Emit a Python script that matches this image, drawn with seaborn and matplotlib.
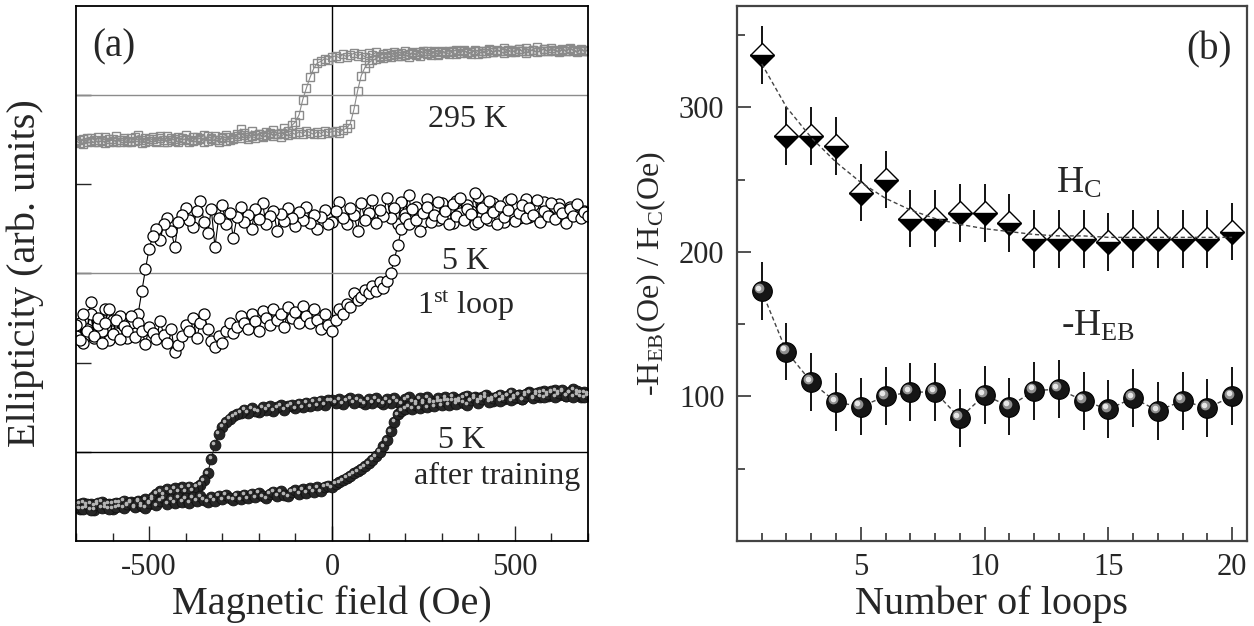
import numpy as np
import matplotlib
matplotlib.use("Agg")
import matplotlib.pyplot as plt
from matplotlib.ticker import MultipleLocator, NullFormatter
from matplotlib.transforms import offset_copy
import seaborn as sns

# ---- panel (a): hysteresis loops, field grid in Oe ----
field = np.arange(-700, 701, 10)

# 295 K, branch coming down from +700 (listed in ascending field order)
k295_down = [4.47, 4.50, 4.45, 4.52, 4.49, 4.47, 4.53, 4.50, 4.46, 4.51, 4.49, 4.54, 4.48, 4.50, 4.47,
             4.52, 4.49, 4.55, 4.50, 4.47, 4.51, 4.53, 4.49, 4.52, 4.48, 4.54, 4.50, 4.51, 4.47, 4.52,
             4.55, 4.50, 4.49, 4.53, 4.51, 4.48, 4.54, 4.52, 4.50, 4.47, 4.53, 4.55, 4.50, 4.52, 4.56,
             4.62, 4.58, 4.53, 4.60, 4.55, 4.57, 4.54, 4.59, 4.56, 4.61, 4.57, 4.58, 4.63, 4.60, 4.66,
             4.70, 4.78, 4.95, 5.08, 5.20, 5.30, 5.36, 5.38, 5.41, 5.40, 5.43,
             5.44, 5.42, 5.46, 5.43, 5.45, 5.47, 5.44, 5.46, 5.43, 5.47, 5.45, 5.48, 5.44, 5.46, 5.47,
             5.45, 5.48, 5.46, 5.44, 5.49, 5.46, 5.47, 5.45, 5.48, 5.50, 5.46, 5.47, 5.49, 5.45, 5.48,
             5.47, 5.50, 5.48, 5.46, 5.49, 5.51, 5.47, 5.48, 5.50, 5.46, 5.49, 5.47, 5.51, 5.48, 5.50,
             5.49, 5.47, 5.51, 5.48, 5.50, 5.52, 5.49, 5.47, 5.50, 5.51, 5.48, 5.50, 5.52, 5.49, 5.51,
             5.50, 5.48, 5.51, 5.49, 5.52, 5.50, 5.48, 5.51, 5.49, 5.50]
# 295 K, branch going up from -700
k295_up = [4.49, 4.46, 4.51, 4.48, 4.52, 4.50, 4.47, 4.49, 4.53, 4.48, 4.51, 4.47, 4.50, 4.52, 4.49,
           4.48, 4.53, 4.50, 4.46, 4.52, 4.49, 4.51, 4.48, 4.54, 4.50, 4.47, 4.52, 4.49, 4.53, 4.50,
           4.51, 4.48, 4.53, 4.50, 4.52, 4.55, 4.49, 4.51, 4.54, 4.50, 4.52, 4.49, 4.53, 4.51, 4.54,
           4.52, 4.55, 4.51, 4.54, 4.52, 4.56, 4.53, 4.55, 4.58, 4.54, 4.56, 4.53, 4.57, 4.55, 4.58,
           4.56, 4.59, 4.57, 4.60, 4.58, 4.56, 4.59, 4.57, 4.60, 4.58, 4.59,
           4.60, 4.58, 4.61, 4.63, 4.68, 4.84, 5.05, 5.22, 5.31, 5.36, 5.39, 5.41, 5.43, 5.42, 5.44,
           5.43, 5.46, 5.44, 5.47, 5.45, 5.43, 5.48, 5.46, 5.44, 5.47, 5.49, 5.45, 5.48, 5.46, 5.50,
           5.48, 5.46, 5.49, 5.51, 5.47, 5.50, 5.48, 5.46, 5.51, 5.49, 5.47, 5.50, 5.52, 5.48, 5.51,
           5.50, 5.53, 5.49, 5.51, 5.48, 5.52, 5.50, 5.53, 5.49, 5.51, 5.54, 5.50, 5.52, 5.49, 5.53,
           5.51, 5.49, 5.52, 5.50, 5.53, 5.51, 5.49, 5.52, 5.50, 5.51]

# 5 K, 1st loop
first_down = [2.30, 2.45, 2.22, 2.38, 2.55, 2.28, 2.42, 2.35, 2.60, 2.25, 2.48, 2.33, 2.52, 2.40, 2.28,
              2.45, 2.38, 2.55, 2.80, 3.05, 3.28, 3.42, 3.50, 3.38, 3.55, 3.62, 3.48, 3.30, 3.58, 3.66,
              3.74, 3.60, 3.52, 3.70, 3.81, 3.58, 3.45, 3.72, 3.30, 3.62, 3.77, 3.55, 3.68, 3.40, 3.63,
              3.75, 3.58, 3.66, 3.50, 3.72, 3.61, 3.79, 3.55, 3.64, 3.70, 3.48, 3.67, 3.59, 3.74, 3.62,
              3.53, 3.69, 3.60, 3.75, 3.57, 3.66, 3.50, 3.63, 3.71, 3.55, 3.58,
              3.70, 3.80, 3.62, 3.55, 3.74, 3.66, 3.48, 3.79, 3.60, 3.68, 3.82, 3.57, 3.71, 3.64, 3.85,
              3.62, 3.73, 3.56, 3.80, 3.67, 3.88, 3.61, 3.75, 3.69, 3.58, 3.83, 3.66, 3.72, 3.60, 3.79,
              3.65, 3.74, 3.57, 3.81, 3.68, 3.62, 3.77, 3.70, 3.55, 3.86, 3.64, 3.73, 3.60, 3.79, 3.67,
              3.72, 3.58, 3.81, 3.65, 3.75, 3.62, 3.70, 3.84, 3.63, 3.77, 3.68, 3.59, 3.80, 3.66, 3.73,
              3.64, 3.78, 3.69, 3.61, 3.75, 3.67, 3.72, 3.63, 3.70, 3.66]
first_up = [2.42, 2.25, 2.55, 2.35, 2.68, 2.30, 2.50, 2.22, 2.45, 2.60, 2.32, 2.48, 2.27, 2.41, 2.35,
            2.52, 2.29, 2.44, 2.36, 2.21, 2.40, 2.33, 2.26, 2.47, 2.31, 2.22, 2.38, 2.12, 2.20, 2.30,
            2.42, 2.35, 2.50, 2.28, 2.44, 2.55, 2.38, 2.24, 2.18, 2.30, 2.22, 2.36, 2.45, 2.33, 2.40,
            2.52, 2.44, 2.38, 2.55, 2.47, 2.36, 2.58, 2.50, 2.42, 2.60, 2.48, 2.55, 2.40, 2.62, 2.50,
            2.57, 2.45, 2.63, 2.52, 2.44, 2.60, 2.48, 2.38, 2.55, 2.42, 2.35,
            2.48, 2.60, 2.55, 2.66, 2.62, 2.78, 2.70, 2.74, 2.82, 2.78, 2.86, 2.80, 2.90, 2.84, 2.92,
            3.00, 3.15, 3.32, 3.50, 3.62, 3.55, 3.72, 3.60, 3.48, 3.68, 3.75, 3.58, 3.66, 3.80, 3.62,
            3.70, 3.56, 3.78, 3.64, 3.85, 3.60, 3.72, 3.67, 3.90, 3.58, 3.74, 3.62, 3.81, 3.69, 3.55,
            3.76, 3.63, 3.71, 3.84, 3.59, 3.68, 3.77, 3.62, 3.73, 3.66, 3.82, 3.58, 3.70, 3.64, 3.79,
            3.61, 3.74, 3.68, 3.57, 3.72, 3.65, 3.78, 3.62, 3.69, 3.64]

# 5 K, after training
trained_down = [0.40, 0.36, 0.43, 0.38, 0.42, 0.35, 0.41, 0.44, 0.38, 0.42, 0.36, 0.43, 0.39, 0.45, 0.40,
                0.44, 0.39, 0.45, 0.41, 0.47, 0.42, 0.49, 0.53, 0.56, 0.52, 0.58, 0.54, 0.59, 0.55, 0.60,
                0.56, 0.61, 0.57, 0.61, 0.63, 0.68, 0.76, 0.92, 1.08, 1.20, 1.28, 1.33, 1.37, 1.40, 1.42,
                1.44, 1.47, 1.44, 1.49, 1.46, 1.45, 1.50, 1.47, 1.51, 1.46, 1.50, 1.52, 1.47, 1.51, 1.53,
                1.49, 1.54, 1.50, 1.55, 1.51, 1.56, 1.52, 1.57, 1.53, 1.58, 1.58,
                1.55, 1.59, 1.54, 1.58, 1.60, 1.55, 1.59, 1.56, 1.54, 1.59, 1.55, 1.60, 1.56, 1.54, 1.59,
                1.55, 1.60, 1.56, 1.54, 1.59, 1.61, 1.56, 1.55, 1.60, 1.56, 1.61, 1.57, 1.55, 1.60, 1.56,
                1.61, 1.57, 1.62, 1.58, 1.56, 1.61, 1.63, 1.58, 1.62, 1.57, 1.61, 1.64, 1.59, 1.57, 1.62,
                1.64, 1.59, 1.63, 1.66, 1.60, 1.64, 1.59, 1.65, 1.67, 1.61, 1.66, 1.62, 1.68, 1.63, 1.67,
                1.69, 1.64, 1.68, 1.63, 1.67, 1.70, 1.64, 1.62, 1.67, 1.63]
trained_up = [0.38, 0.42, 0.36, 0.41, 0.35, 0.40, 0.43, 0.37, 0.41, 0.36, 0.42, 0.38, 0.43, 0.37, 0.41,
              0.43, 0.38, 0.44, 0.39, 0.37, 0.43, 0.46, 0.40, 0.45, 0.48, 0.42, 0.47, 0.43, 0.49, 0.44,
              0.48, 0.43, 0.49, 0.45, 0.50, 0.46, 0.44, 0.49, 0.45, 0.51, 0.47, 0.52, 0.48, 0.46, 0.51,
              0.47, 0.52, 0.48, 0.53, 0.49, 0.54, 0.50, 0.48, 0.53, 0.55, 0.51, 0.56, 0.52, 0.50, 0.55,
              0.57, 0.53, 0.58, 0.54, 0.59, 0.55, 0.60, 0.56, 0.61, 0.62, 0.60,
              0.64, 0.66, 0.68, 0.71, 0.73, 0.76, 0.78, 0.81, 0.84, 0.87, 0.91, 0.95, 1.00, 1.06, 1.13,
              1.23, 1.34, 1.42, 1.46, 1.48, 1.51, 1.48, 1.53, 1.49, 1.54, 1.50, 1.55, 1.51, 1.56, 1.52,
              1.57, 1.53, 1.58, 1.54, 1.59, 1.55, 1.53, 1.58, 1.60, 1.55, 1.59, 1.61, 1.56, 1.60, 1.62,
              1.57, 1.61, 1.63, 1.58, 1.62, 1.64, 1.59, 1.63, 1.66, 1.60, 1.64, 1.67, 1.61, 1.65, 1.68,
              1.62, 1.66, 1.69, 1.63, 1.67, 1.62, 1.68, 1.66, 1.61, 1.65]

# ---- panel (b): training effect ----
loops = list(range(1, 21))
hc = [336, 280, 280, 273, 241, 250, 223, 223, 227, 227, 220, 209, 209, 209, 207, 209, 209, 209, 209, 214]
hc_err = [20] * 20
hc_fit = [330, 300, 279, 262, 248, 237, 229, 223, 219, 216, 214, 212, 211, 211, 210, 210, 210, 210, 210, 210]
heb = [173, 131, 110, 96, 93, 100, 103, 103, 85, 101, 93, 104, 105, 97, 91, 99, 90, 97, 92, 100]
heb_err = [20] * 20

sns.set_style("ticks")
plt.rcParams["font.family"] = ["Liberation Serif", "DejaVu Serif"]
plt.rcParams["mathtext.fontset"] = "custom"
plt.rcParams["mathtext.rm"] = "Liberation Serif"
plt.rcParams["mathtext.it"] = "Liberation Serif:italic"
plt.rcParams["axes.unicode_minus"] = False

fig = plt.figure(figsize=(12.54, 6.26), dpi=100)
ax1 = fig.add_axes([0.0606, 0.1358, 0.4083, 0.8546])
ax2 = fig.add_axes([0.5877, 0.1358, 0.4067, 0.8546])


def loop_path(down, up):
    x = np.concatenate([field[::-1], field])
    y = np.concatenate([np.array(down)[::-1], np.array(up)])
    return x, y


# reference lines
ax1.axvline(0, color="black", lw=1.0, zorder=1)
ax1.axhline(5, color="#8c8c8c", lw=1.0, zorder=1)
ax1.axhline(3, color="#8c8c8c", lw=1.0, zorder=1)
ax1.axhline(1, color="black", lw=1.0, zorder=1)

x, y = loop_path(k295_down, k295_up)
sns.lineplot(x=x, y=y, sort=False, estimator=None, ax=ax1, color="#8a8a8a", lw=0.8,
             marker="s", ms=6.3, mfc="none", mec="#8a8a8a", mew=1.0)

x, y = loop_path(first_down, first_up)
sns.lineplot(x=x, y=y, sort=False, estimator=None, ax=ax1, color="black", lw=0.8,
             marker="o", ms=8, mfc="white", mec="black", mew=0.9)

x, y = loop_path(trained_down, trained_up)
sns.lineplot(x=x, y=y, sort=False, estimator=None, ax=ax1, color="#222222", lw=0.8,
             marker="o", ms=7.8, mfc="#262626", mec="#111111", mew=0.6)
hl = offset_copy(ax1.transData, fig=fig, x=-1.1, y=1.1, units="points")
ax1.plot(x, y, ls="none", marker="o", ms=1.6, color="#b4b4b4", transform=hl, zorder=3)

ax1.set_xlim(-700, 700)
ax1.set_ylim(0, 6)
ax1.xaxis.set_major_locator(MultipleLocator(500))
ax1.xaxis.set_minor_locator(MultipleLocator(100))
ax1.set_yticks([1, 2, 3, 4, 5])
ax1.yaxis.set_major_formatter(NullFormatter())
ax1.tick_params(which="both", direction="in", top=False, right=False, labelsize=22, pad=9, width=1.0)
ax1.tick_params(which="major", length=11)
ax1.tick_params(which="minor", length=6)
ax1.set_xlabel("Magnetic field (Oe)", fontsize=29, labelpad=2)
ax1.set_ylabel("Ellipticity (arb. units)", fontsize=29, labelpad=14)
for s in ax1.spines.values():
    s.set_linewidth(1.3)
    s.set_color("black")

ax1.text(-596, 5.54, "(a)", fontsize=28, ha="center", va="center")
ax1.text(372, 4.73, "295 K", fontsize=23, ha="center", va="center")
ax1.text(364, 3.13, "5 K", fontsize=23, ha="center", va="center")
ax1.text(366, 2.64, "1$^{\\mathrm{st}}$ loop", fontsize=23, ha="center", va="center")
ax1.text(353, 1.13, "5 K", fontsize=23, ha="center", va="center")
ax1.text(451, 0.72, "after training", fontsize=23, ha="center", va="center")

# panel (b)
ax2.errorbar(loops, hc, yerr=hc_err, fmt="none", ecolor="black", elinewidth=1.3, capsize=0, zorder=2)
ax2.errorbar(loops, heb, yerr=heb_err, fmt="none", ecolor="black", elinewidth=1.3, capsize=0, zorder=2)

sns.lineplot(x=loops, y=hc, ax=ax2, ls="none", marker="D", ms=12, fillstyle="bottom",
             mfc="black", markerfacecoloralt="white", mec="black", mew=1.0, zorder=3)
sns.lineplot(x=loops, y=hc_fit, ax=ax2, color="#444444", lw=1.0, dashes=(3, 2), zorder=4)

sns.lineplot(x=loops, y=heb, ax=ax2, color="#444444", lw=1.0, dashes=(3, 2), zorder=2.5)
sns.scatterplot(x=loops, y=heb, ax=ax2, s=200, color="#151515", edgecolor="black", linewidth=0.8, zorder=3)
hl2 = offset_copy(ax2.transData, fig=fig, x=-2.0, y=2.0, units="points")
ax2.plot(loops, heb, ls="none", marker="o", ms=6, color="#8f8f8f", transform=hl2, zorder=4)
hl3 = offset_copy(ax2.transData, fig=fig, x=-2.4, y=2.4, units="points")
ax2.plot(loops, heb, ls="none", marker="o", ms=3, color="#e6e6e6", transform=hl3, zorder=5)

ax2.set_xlim(0, 20.6)
ax2.set_ylim(0, 370)
ax2.set_xticks([5, 10, 15, 20])
ax2.xaxis.set_minor_locator(MultipleLocator(1))
ax2.set_yticks([100, 200, 300])
ax2.yaxis.set_minor_locator(MultipleLocator(50))
ax2.tick_params(which="both", direction="in", top=False, right=False, labelsize=22, pad=9,
                width=1.2, color="#333333")
ax2.tick_params(which="major", length=10)
ax2.tick_params(which="minor", length=6)
ax2.set_xlabel("Number of loops", fontsize=29, labelpad=2)
ax2.set_ylabel("-H$_{\\mathrm{EB}}$(Oe) / H$_{\\mathrm{C}}$(Oe)", fontsize=23, labelpad=8)
for s in ax2.spines.values():
    s.set_linewidth(1.6)
    s.set_color("#444444")

ax2.text(19.07, 340, "(b)", fontsize=28, ha="center", va="center")
ax2.text(12.9, 241, "H$_{\\mathrm{C}}$", fontsize=27, ha="left", va="baseline")
ax2.text(13.1, 142, "-H$_{\\mathrm{EB}}$", fontsize=27, ha="left", va="baseline")

fig.savefig("out.png", dpi=100)
